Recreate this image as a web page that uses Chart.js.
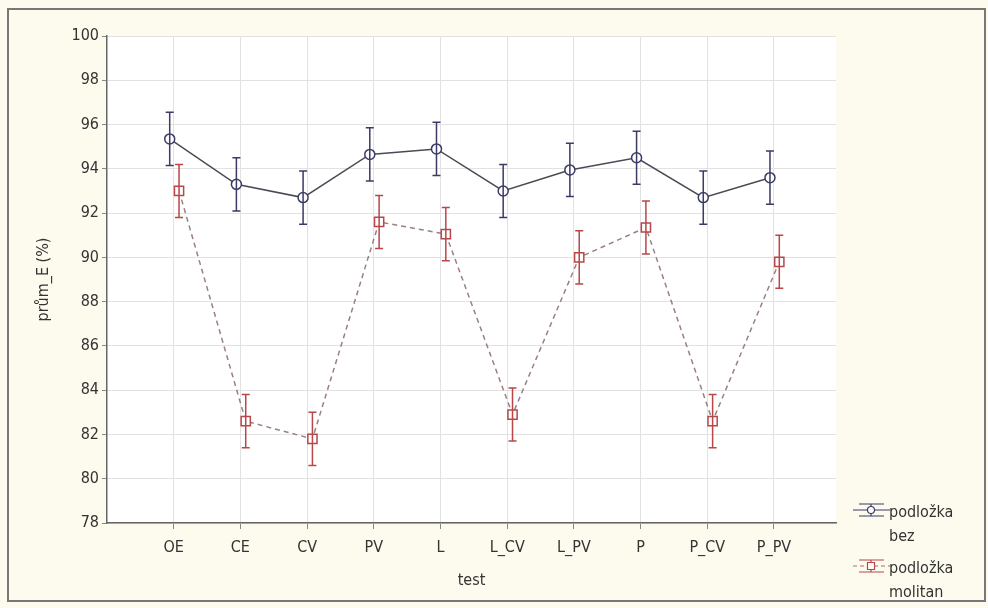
<!DOCTYPE html>
<html>
<head>
<meta charset="utf-8">
<script src="https://cdn.jsdelivr.net/npm/chart.js@4"></script>
<style>
  html, body { margin: 0; padding: 0; background: #fdfaee; }
  #wrap { width: 988px; height: 608px; position: relative; }
</style>
</head>
<body>
<div id="wrap"><canvas id="graf" width="988" height="608"></canvas></div>
<script>
const testy = ['OE', 'CE', 'CV', 'PV', 'L', 'L_CV', 'L_PV', 'P', 'P_CV', 'P_PV'];
const bez = [95.35, 93.3, 92.7, 94.65, 94.9, 93.0, 93.95, 94.5, 92.7, 93.6];
const bezChyba = [1.2, 1.2, 1.2, 1.2, 1.2, 1.2, 1.2, 1.2, 1.2, 1.2];
const molitan = [93.0, 82.6, 81.8, 91.6, 91.05, 82.9, 90.0, 91.35, 82.6, 89.8];
const molitanChyba = [1.2, 1.2, 1.2, 1.2, 1.2, 1.2, 1.2, 1.2, 1.2, 1.2];
const yTicks = [78, 80, 82, 84, 86, 88, 90, 92, 94, 96, 98, 100];

const font = "'DejaVu Sans Condensed', 'Liberation Sans Narrow', Arial, sans-serif";
const modra = '#3b3b66';
const cervena = '#b8474a';

function body(hodnoty, posun) {
  return hodnoty.map((v, i) => ({ x: i + 1 + posun, y: v }));
}

const chybovePruhy = {
  id: 'chybovePruhy',
  afterDatasetsDraw(chart) {
    const ctx = chart.ctx;
    const x = chart.scales.x, y = chart.scales.y;
    const sady = [
      { data: chart.data.datasets[0].data, chyba: bezChyba, barva: modra },
      { data: chart.data.datasets[1].data, chyba: molitanChyba, barva: cervena }
    ];
    ctx.save();
    sady.forEach(s => {
      ctx.strokeStyle = s.barva;
      ctx.lineWidth = 1.5;
      s.data.forEach((p, i) => {
        const px = x.getPixelForValue(p.x);
        const top = y.getPixelForValue(p.y + s.chyba[i]);
        const bot = y.getPixelForValue(p.y - s.chyba[i]);
        ctx.beginPath();
        ctx.moveTo(px, top); ctx.lineTo(px, bot);
        ctx.moveTo(px - 4, top); ctx.lineTo(px + 4, top);
        ctx.moveTo(px - 4, bot); ctx.lineTo(px + 4, bot);
        ctx.stroke();
      });
    });
    ctx.restore();
  }
};

const ramecek = {
  id: 'ramecek',
  beforeDraw(chart) {
    const ctx = chart.ctx;
    const a = chart.chartArea;
    ctx.save();
    ctx.fillStyle = '#fdfaee';
    ctx.fillRect(0, 0, chart.width, chart.height);
    ctx.strokeStyle = '#777';
    ctx.lineWidth = 2;
    ctx.strokeRect(8, 9, 977, 592);
    ctx.fillStyle = '#ffffff';
    ctx.fillRect(a.left, a.top, a.right - a.left, a.bottom - a.top);
    ctx.restore();
  },
  afterDraw(chart) {
    const ctx = chart.ctx;
    ctx.save();
    ctx.font = '16px ' + font;
    ctx.fillStyle = '#333';
    ctx.textBaseline = 'middle';
    const polozky = [
      { y: 510, barva: modra, car: modra, dash: [], tvar: 'kruh', text: ['podložka', 'bez'] },
      { y: 566, barva: cervena, car: '#a07070', dash: [4, 3], tvar: 'ctverec', text: ['podložka', 'molitan'] }
    ];
    polozky.forEach(p => {
      const x0 = 853, x1 = 890, xm = 871;
      ctx.strokeStyle = p.barva;
      ctx.lineWidth = 1.2;
      ctx.beginPath();
      ctx.moveTo(x0 + 6, p.y - 6); ctx.lineTo(x1 - 6, p.y - 6);
      ctx.moveTo(x0 + 6, p.y + 6); ctx.lineTo(x1 - 6, p.y + 6);
      ctx.moveTo(xm, p.y - 6); ctx.lineTo(xm, p.y + 6);
      ctx.stroke();
      ctx.strokeStyle = p.car;
      ctx.setLineDash(p.dash);
      ctx.beginPath();
      ctx.moveTo(x0, p.y); ctx.lineTo(x1, p.y);
      ctx.stroke();
      ctx.setLineDash([]);
      ctx.fillStyle = '#fff';
      ctx.strokeStyle = p.barva;
      ctx.beginPath();
      if (p.tvar === 'kruh') ctx.arc(xm, p.y, 3.5, 0, Math.PI * 2);
      else ctx.rect(xm - 3.5, p.y - 3.5, 7, 7);
      ctx.fill(); ctx.stroke();
      ctx.fillStyle = '#333';
      ctx.fillText(p.text[0], 889, p.y + 3);
      ctx.fillText(p.text[1], 889, p.y + 27);
    });
    ctx.restore();
  }
};

new Chart(document.getElementById('graf'), {
  type: 'line',
  data: {
    datasets: [
      {
        label: 'podložka bez',
        data: body(bez, -0.06),
        borderColor: '#4a4a55',
        borderWidth: 1.5,
        pointStyle: 'circle',
        pointRadius: 5,
        pointBackgroundColor: '#fff',
        pointBorderColor: modra,
        pointBorderWidth: 1.5,
        tension: 0,
        order: 1
      },
      {
        label: 'podložka molitan',
        data: body(molitan, 0.08),
        borderColor: '#9a8080',
        borderWidth: 1.5,
        borderDash: [5, 4],
        pointStyle: 'rect',
        pointRadius: 6.5,
        pointBackgroundColor: '#fff',
        pointBorderColor: cervena,
        pointBorderWidth: 1.5,
        tension: 0,
        order: 2
      }
    ]
  },
  options: {
    responsive: false,
    animation: false,
    layout: { padding: { left: 30, top: 36, right: 152, bottom: 14 } },
    plugins: { legend: { display: false }, tooltip: { enabled: false } },
    scales: {
      x: {
        type: 'linear',
        min: 0,
        max: 10.93,
        afterBuildTicks: s => { s.ticks = testy.map((t, i) => ({ value: i + 1 })); },
        afterFit: s => { s.height = 71; },
        ticks: {
          autoSkip: false,
          maxRotation: 0,
          color: '#333',
          font: { family: font, size: 16 },
          padding: 9,
          callback: v => testy[v - 1]
        },
        grid: { color: '#e2e2e2', tickLength: 6, tickColor: '#888' },
        border: { color: '#666', width: 1.5 },
        title: { display: true, text: 'test', color: '#333', font: { family: font, size: 16 }, padding: { top: 6 } }
      },
      y: {
        min: 78,
        max: 100,
        afterBuildTicks: s => { s.ticks = yTicks.map(v => ({ value: v })); },
        afterFit: s => { s.width = 77; },
        ticks: {
          color: '#333',
          font: { family: font, size: 16 },
          padding: 3
        },
        grid: { color: '#e2e2e2', tickLength: 5, tickColor: '#888' },
        border: { color: '#666', width: 1.5 },
        title: { display: true, text: 'prům_E (%)', color: '#333', font: { family: font, size: 16 }, padding: { bottom: 8 } }
      }
    }
  },
  plugins: [ramecek, chybovePruhy]
});
</script>
</body>
</html>
